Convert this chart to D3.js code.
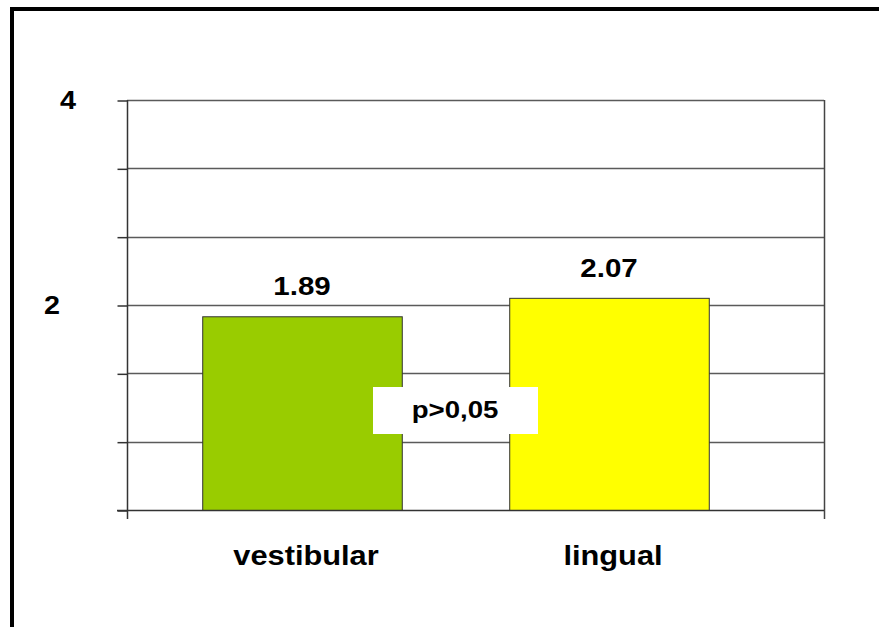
<!DOCTYPE html>
<html>
<head>
<meta charset="utf-8">
<script src="https://cdn.jsdelivr.net/npm/d3@7"></script>
<style>
  html, body { margin: 0; padding: 0; background: #fff; overflow: hidden; }
  svg { display: block; }
  text { font-family: "Liberation Sans", Arial, Helvetica, sans-serif; font-weight: bold; fill: #000; }
</style>
</head>
<body>
<svg id="chart" width="879" height="627"></svg>
<script>
// Mean scores by surface
const categories = ["vestibular", "lingual"];
const values = [1.89, 2.07];
const barColors = ["#99CC00", "#FFFF00"];
const valueLabels = ["1.89", "2.07"];

// Y axis: 0..4 split in six gridline steps, only 2 and 4 labelled
const yMax = 4;
const yGridSteps = 6;
const yTickLabels = [2, 4];
const note = "p>0,05";

const W = 879, H = 627;
const plot = { left: 127, right: 824, top: 100, bottom: 510 };

const svg = d3.select("#chart");

svg.append("rect").attr("width", W).attr("height", H).attr("fill", "#fff");

const y = d3.scaleLinear().domain([0, yMax]).range([plot.bottom, plot.top]);
const x = d3.scaleBand().domain(categories)
  .range([148.5, 762.5]).paddingInner(0.35).paddingOuter(0.175);

const gridValues = d3.range(yGridSteps + 1).map(i => i * yMax / yGridSteps);

// horizontal gridlines
svg.append("g").selectAll("line").data(gridValues.slice(1)).join("line")
  .attr("x1", plot.left).attr("x2", plot.right)
  .attr("y1", d => Math.round(y(d)) + 0.5).attr("y2", d => Math.round(y(d)) + 0.5)
  .attr("stroke", "#5a5a5a").attr("stroke-width", 1.5);

// left axis with outward ticks
const yAxis = d3.axisLeft(y).tickValues(gridValues).tickSize(10).tickSizeOuter(0).tickFormat("");
const gy = svg.append("g").attr("transform", `translate(${plot.left + 0.5},0.5)`).call(yAxis);
gy.select(".domain").remove();
gy.selectAll(".tick line").attr("stroke", "#333").attr("stroke-width", 1.5);
svg.append("line").attr("x1", plot.left + 0.5).attr("x2", plot.left + 0.5)
  .attr("y1", plot.top).attr("y2", plot.bottom + 9)
  .attr("stroke", "#333").attr("stroke-width", 1.5);
// right frame edge
svg.append("line").attr("x1", plot.right + 0.5).attr("x2", plot.right + 0.5)
  .attr("y1", plot.top).attr("y2", plot.bottom + 9)
  .attr("stroke", "#444").attr("stroke-width", 1.5);

// tick labels
const tickLabelX = { 2: 52, 4: 68 };
svg.append("g").selectAll("text").data(yTickLabels).join("text")
  .attr("transform", d => `translate(${tickLabelX[d]},${y(d) + 9}) scale(1.15,1)`)
  .attr("text-anchor", "middle").attr("font-size", 25)
  .text(d => d);

// bars
svg.append("g").selectAll("rect").data(categories).join("rect")
  .attr("x", d => x(d) + 0.5)
  .attr("y", (d, i) => y(values[i]) + 0.5)
  .attr("width", x.bandwidth())
  .attr("height", (d, i) => y(0) - y(values[i]))
  .attr("fill", (d, i) => barColors[i])
  .attr("stroke", "#333").attr("stroke-width", 1);

// x axis baseline
svg.append("line").attr("x1", plot.left - 10).attr("x2", plot.right)
  .attr("y1", plot.bottom + 0.5).attr("y2", plot.bottom + 0.5)
  .attr("stroke", "#333").attr("stroke-width", 1.5);

// value labels above bars
svg.append("g").selectAll("text").data(categories).join("text")
  .attr("transform", (d, i) => `translate(${x(d) + x.bandwidth() / 2},${y(values[i]) - 21}) scale(1.18,1)`)
  .attr("text-anchor", "middle").attr("font-size", 25)
  .text((d, i) => valueLabels[i]);

// category labels
svg.append("g").selectAll("text").data(categories).join("text")
  .attr("transform", d => `translate(${x(d) + x.bandwidth() / 2 + 4},565) scale(1.1,1)`)
  .attr("text-anchor", "middle").attr("font-size", 28)
  .text(d => d);

// significance note
const noteG = svg.append("g");
noteG.append("rect").attr("x", 373).attr("y", 387).attr("width", 165).attr("height", 47).attr("fill", "#fff");
noteG.append("text")
  .attr("transform", `translate(455,418) scale(1.15,1)`)
  .attr("text-anchor", "middle").attr("font-size", 24)
  .text(note);

// outer frame (runs off the right and bottom edges)
svg.append("rect").attr("x", 12).attr("y", 9).attr("width", W + 20).attr("height", H + 20)
  .attr("fill", "none").attr("stroke", "#000").attr("stroke-width", 4);
</script>
</body>
</html>
